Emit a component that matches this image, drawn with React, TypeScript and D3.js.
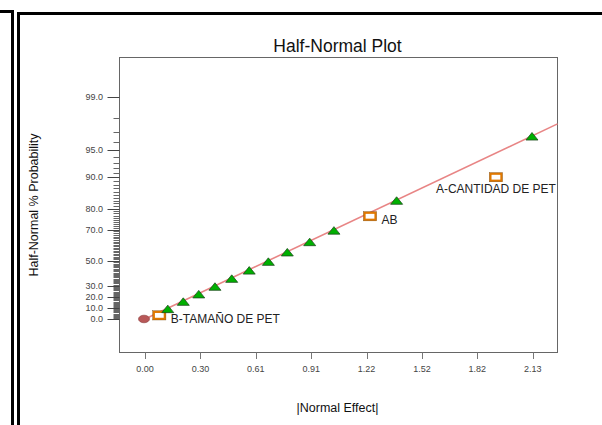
import React from 'react';
import * as d3 from 'd3';

// |effect| values, sorted, with their half-normal % probability
const effects = [0.0785, 0.125, 0.21, 0.295, 0.384, 0.476, 0.572, 0.677, 0.781, 0.904, 1.037, 1.235, 1.381, 1.926, 2.124];
const probabilities = [3.33, 10, 16.67, 23.33, 30, 36.67, 43.33, 50, 56.67, 63.33, 70, 76.67, 83.33, 90, 96.67];
const pointKinds = ['effect', 'error', 'error', 'error', 'error', 'error', 'error', 'error', 'error', 'error', 'error', 'effect', 'error', 'effect', 'error'];
const pointLabels = ['B-TAMAÑO DE PET', '', '', '', '', '', '', '', '', '', '', 'AB', '', 'A-CANTIDAD DE PET', ''];

const originEffect = 0;
const originProbability = 0;

// fitted line: z = slope * |effect|
const fitSlope = 1.0;
const fitEffects = [0, 2.264];

const xTickValues = [0, 0.304, 0.608, 0.912, 1.216, 1.52, 1.824, 2.128];
const yTickValues = [0, 10, 20, 30, 50, 70, 80, 90, 95, 99];

const W = 602;
const H = 425;
const font = '"Liberation Sans", Arial, sans-serif';

// inverse standard normal cdf (Acklam)
const probit = (p: number) => {
  const a = [-3.969683028665376e1, 2.209460984245205e2, -2.759285104469687e2, 1.38357751867269e2, -3.066479806614716e1, 2.506628277459239];
  const b = [-5.447609879822406e1, 1.615858368580409e2, -1.556989798598866e2, 6.680131188771972e1, -1.328068155288572e1];
  const c = [-7.784894002430293e-3, -3.223964580411365e-1, -2.400758277161838, -2.549732539343734, 4.374664141464968, 2.938163982698783];
  const d = [7.784695709041462e-3, 3.224671290700398e-1, 2.445134137142996, 3.754408661907416];
  const pl = 0.02425;
  if (p < pl) {
    const q = Math.sqrt(-2 * Math.log(p));
    return (((((c[0] * q + c[1]) * q + c[2]) * q + c[3]) * q + c[4]) * q + c[5]) / ((((d[0] * q + d[1]) * q + d[2]) * q + d[3]) * q + 1);
  }
  if (p > 1 - pl) {
    const q = Math.sqrt(-2 * Math.log(1 - p));
    return -(((((c[0] * q + c[1]) * q + c[2]) * q + c[3]) * q + c[4]) * q + c[5]) / ((((d[0] * q + d[1]) * q + d[2]) * q + d[3]) * q + 1);
  }
  const q = p - 0.5;
  const r = q * q;
  return (((((a[0] * r + a[1]) * r + a[2]) * r + a[3]) * r + a[4]) * r + a[5]) * q / (((((b[0] * r + b[1]) * r + b[2]) * r + b[3]) * r + b[4]) * r + 1);
};

// half-normal quantile for a percent
const halfZ = (pct: number) => (pct <= 0 ? 0 : probit(0.5 + pct / 200));

const App = () => {
  const plot = { left: 119.5, right: 557.5, top: 57.5, bottom: 352.5 };

  const x = d3.scaleLinear().domain([-0.14, 2.264]).range([plot.left, plot.right]);
  const yz = d3.scaleLinear().domain([-0.389, 3.034]).range([plot.bottom, plot.top]);
  const y = (pct: number) => yz(halfZ(pct));

  const minorTicks = d3.range(0, 100);

  const fitLine = d3.line<number>()
    .x(e => x(e))
    .y(e => yz(fitSlope * e));

  const triangle = (cx: number, cy: number) =>
    `M${cx},${cy - 3} L${cx + 6},${cy + 4.5} L${cx - 6},${cy + 4.5} Z`;

  return (
    <svg width={W} height={H} style={{ position: 'absolute', left: 0, top: 0, background: '#fff' }} fontFamily={font}>
      {/* window frames */}
      <path d={`M0,11.5 H12.5 V${H}`} fill="none" stroke="#000" strokeWidth={3} />
      <path d={`M18.5,${H} V13.5 H${W}`} fill="none" stroke="#000" strokeWidth={3} />

      <text x={337.5} y={51.5} textAnchor="middle" fontSize={17.5} fill="#111">Half-Normal Plot</text>

      <rect x={plot.left} y={plot.top} width={plot.right - plot.left} height={plot.bottom - plot.top}
        fill="none" stroke="#666" strokeWidth={1} />

      {/* y axis ticks */}
      {minorTicks.map(t => (
        <line key={'m' + t} x1={113.5} x2={plot.left} y1={Math.round(y(t)) + 0.5} y2={Math.round(y(t)) + 0.5}
          stroke="#666" strokeWidth={1} />
      ))}
      {yTickValues.map(t => (
        <g key={'y' + t}>
          <line x1={107.5} x2={plot.left} y1={Math.round(y(t)) + 0.5} y2={Math.round(y(t)) + 0.5} stroke="#444" strokeWidth={1} />
          <text x={103} y={y(t)} dy="0.34em" textAnchor="end" fontSize={9} fill="#444">{t.toFixed(1)}</text>
        </g>
      ))}

      {/* x axis ticks */}
      {xTickValues.map(t => (
        <g key={'x' + t}>
          <line x1={Math.round(x(t)) + 0.5} x2={Math.round(x(t)) + 0.5} y1={plot.bottom} y2={359} stroke="#777" strokeWidth={1} />
          <text x={x(t)} y={371.5} textAnchor="middle" fontSize={9} fill="#444">{t.toFixed(2)}</text>
        </g>
      ))}

      <text x={337.5} y={412} textAnchor="middle" fontSize={12.5} fill="#111">|Normal Effect|</text>
      <text transform="translate(38,205) rotate(-90)" textAnchor="middle" fontSize={12.5} fill="#111">Half-Normal % Probability</text>

      {/* fitted line */}
      <path d={fitLine(fitEffects) || ''} fill="none" stroke="#e88585" strokeWidth={1.6} />

      {/* origin */}
      <ellipse cx={x(originEffect) - 1} cy={y(originProbability)} rx={5.5} ry={3.8} fill="#b85858" stroke="#8a3c3c" strokeWidth={0.6} />

      {/* points */}
      {effects.map((e, i) => {
        const cx = x(e);
        const cy = y(probabilities[i]);
        if (pointKinds[i] === 'error') {
          return <path key={'p' + i} d={triangle(cx, cy)} fill="#00b000" stroke="#1e4e1e" strokeWidth={0.8} />;
        }
        return (
          <g key={'p' + i}>
            <rect x={cx - 5.5} y={cy - 3.5} width={11} height={7} fill="#fff" stroke="#e07800" strokeWidth={2.2} />
            <rect x={cx - 6.6} y={cy - 4.6} width={13.2} height={9.2} fill="none" stroke="#7a4a10" strokeWidth={0.4} />
          </g>
        );
      })}

      {/* effect labels */}
      {effects.map((e, i) => {
        const label = pointLabels[i];
        if (!label) return null;
        const cx = x(e);
        const cy = y(probabilities[i]);
        const below = label.startsWith('A-');
        return (
          <text key={'l' + i} x={below ? cx : cx + 11.5} y={below ? cy + 16 : cy + 7.3}
            textAnchor={below ? 'middle' : 'start'} fontSize={12} fill="#222">{label}</text>
        );
      })}
    </svg>
  );
};

export default App;
